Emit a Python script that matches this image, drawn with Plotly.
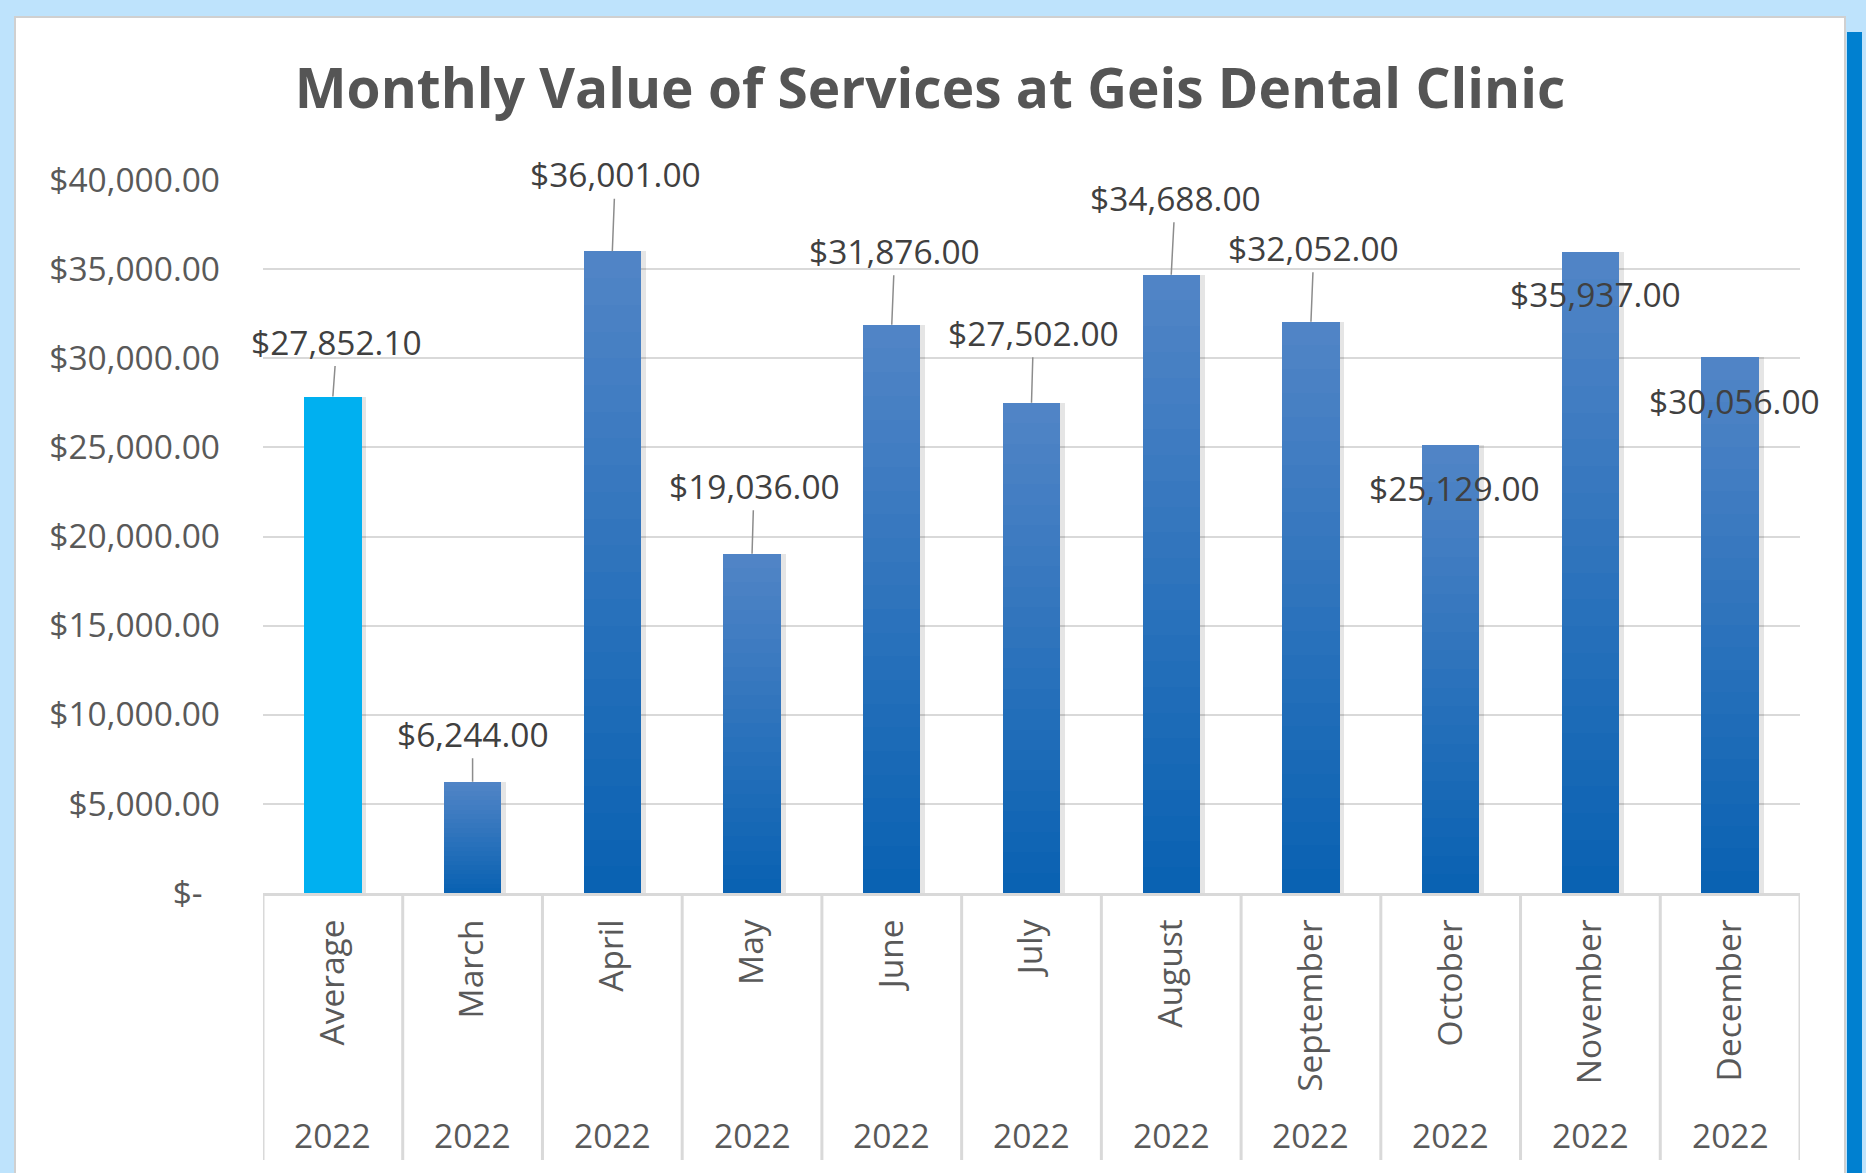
import plotly.graph_objects as go

# ---- data ----
categories = ["Average", "March", "April", "May", "June", "July", "August",
              "September", "October", "November", "December"]
years = ["2022"] * 11
values = [27852.10, 6244, 36001, 19036, 31876, 27502, 34688, 32052, 25129, 35937, 30056]
label_texts = ["$27,852.10", "$6,244.00", "$36,001.00", "$19,036.00", "$31,876.00",
               "$27,502.00", "$34,688.00", "$32,052.00", "$25,129.00", "$35,937.00",
               "$30,056.00"]
y_ticks = [0, 5000, 10000, 15000, 20000, 25000, 30000, 35000, 40000]
y_ticktext = ["$-\u00a0\u00a0"] + [f"${v:,.2f}" for v in y_ticks[1:]]
title_text = "Monthly Value of Services at Geis Dental Clinic"

# label offsets (pixels) relative to bar top: (dx, dy, leader line?)
label_offsets = [(4, -55, True), (0, -48, True), (3, -77, True), (2, -68, True),
                 (3, -74, True), (2, -70, True), (4, -77, True), (3, -74, True),
                 (4, 43, False), (5, 42, False), (4, 44, False)]

# ---- layout geometry ----
W, H = 1866, 1173
L, R, T, B = 263, 66, 180, 280
PW, PH = W - L - R, H - T - B

def px_x(px):
    return (px - L) / PW

def px_y(py):
    return (H - B - py) / PH

FONT = "Open Sans"
FS = 33.5
AXIS_COL = "#595959"
LABEL_COL = "#404040"
GRID_COL = "#D9D9D9"

avg_color = "#00B0F0"
top_rgb = (0x50, 0x84, 0xC6)
bot_rgb = (0x0A, 0x62, 0xB2)

fig = go.Figure()

# shadow trace (soft offset)
fig.add_trace(go.Bar(
    x=categories, y=values, width=0.41, offset=-0.205 + 0.035,
    marker=dict(color="rgba(0,0,0,0.10)", line=dict(width=0)),
    hoverinfo="skip", showlegend=False))

# gradient via overlaid bars
N = 24
for k in range(N):
    frac = (N - k) / N
    t = k / (N - 1)
    rgb = tuple(round(top_rgb[i] + (bot_rgb[i] - top_rgb[i]) * t) for i in range(3))
    col = "rgb(%d,%d,%d)" % rgb
    colors = [avg_color if c == "Average" else col for c in categories]
    fig.add_trace(go.Bar(
        x=categories, y=[v * frac for v in values], width=0.41,
        marker=dict(color=colors, line=dict(width=0)),
        hoverinfo="skip" if k else "x+y", showlegend=False))

annotations = []
for i, (c, v, txt) in enumerate(zip(categories, values, label_texts)):
    dx, dy, line = label_offsets[i]
    if line:
        annotations.append(dict(
            x=c, y=v, xref="x", yref="y", text=txt, showarrow=True,
            ax=dx, ay=dy, arrowhead=0, arrowwidth=1.5, arrowcolor="#8C8C8C",
            standoff=0, font=dict(family=FONT, size=FS, color=LABEL_COL)))
    else:
        annotations.append(dict(
            x=c, y=v, xref="x", yref="y", text=txt, showarrow=False,
            xshift=dx, yshift=-dy, font=dict(family=FONT, size=FS, color=LABEL_COL)))

for i, yr in enumerate(years):
    annotations.append(dict(
        x=categories[i], y=px_y(1135), xref="x", yref="paper", text=yr,
        showarrow=False, yanchor="middle",
        font=dict(family=FONT, size=FS, color=AXIS_COL)))

shapes = [
    # white card
    dict(type="rect", xref="paper", yref="paper", layer="below",
         x0=px_x(15), x1=px_x(1845), y0=px_y(1200), y1=px_y(17),
         fillcolor="white", line=dict(color="#D0D0D0", width=2)),
    # right blue strip
    dict(type="rect", xref="paper", yref="paper", layer="below",
         x0=px_x(1847), x1=px_x(1862), y0=px_y(1200), y1=px_y(32),
         fillcolor="#0080D0", line=dict(width=0)),
]
for i in range(len(categories) + 1):
    shapes.append(dict(type="line", xref="x", yref="paper",
                       x0=i - 0.5, x1=i - 0.5, y0=0, y1=px_y(1160),
                       line=dict(color=GRID_COL, width=3)))

fig.update_layout(
    width=W, height=H,
    margin=dict(l=L, r=R, t=T, b=B),
    paper_bgcolor="#BEE3FC",
    plot_bgcolor="white",
    barmode="overlay",
    bargap=0,
    showlegend=False,
    title=dict(text="<b>" + title_text + "</b>", x=930 / W, xanchor="center",
               y=1 - 89 / H, yanchor="middle", yref="container",
               font=dict(family=FONT, size=55, color="#555555")),
    xaxis=dict(type="category", tickangle=-90, showgrid=False,
               showline=True, linecolor=GRID_COL, linewidth=3,
               ticks="", ticklabelstandoff=10,
               tickfont=dict(family=FONT, size=FS, color=AXIS_COL),
               range=[-0.5, len(categories) - 0.5]),
    yaxis=dict(range=[0, 40000], tickvals=y_ticks, ticktext=y_ticktext,
               showgrid=True, gridcolor=GRID_COL, gridwidth=2,
               zeroline=False, ticks="", ticklabelstandoff=42,
               tickfont=dict(family=FONT, size=FS, color=AXIS_COL)),
    annotations=annotations,
    shapes=shapes,
)

fig.write_html("out.html", config={"displayModeBar": False})

# remove default page margin so the figure fills the window exactly
with open("out.html", "r", encoding="utf-8") as f:
    html = f.read()
html = html.replace("<head>", "<head><style>html,body{margin:0;padding:0;overflow:hidden;}</style>", 1)
with open("out.html", "w", encoding="utf-8") as f:
    f.write(html)
